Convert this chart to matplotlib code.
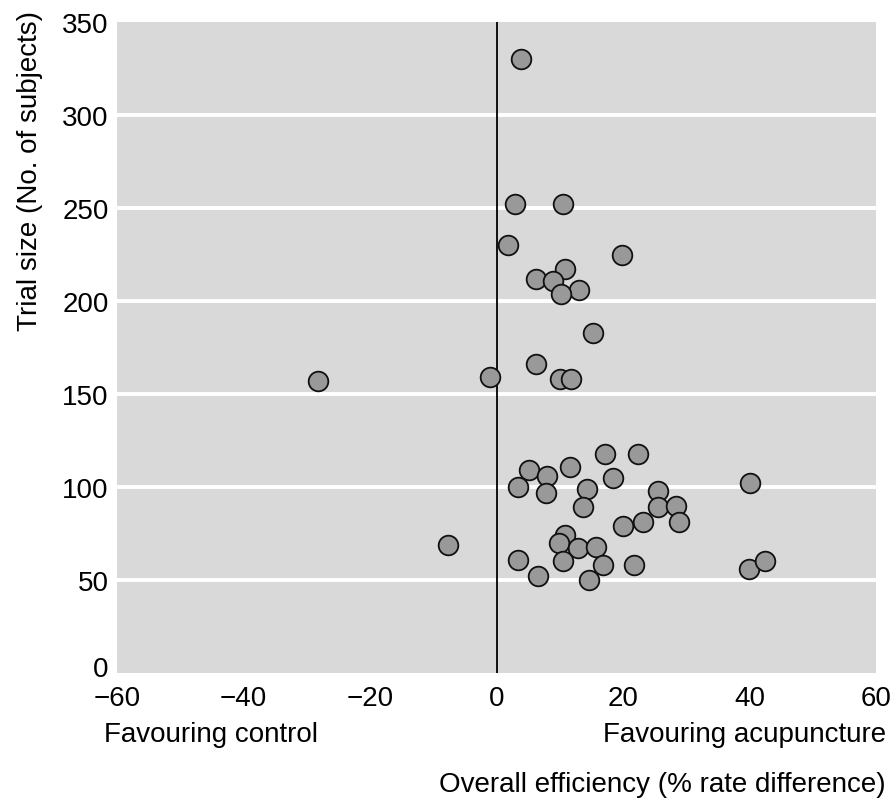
import matplotlib
matplotlib.use("Agg")
import matplotlib.pyplot as plt
import matplotlib.transforms as mtransforms

plt.rcParams["font.family"] = ["Liberation Sans", "DejaVu Sans"]

# rate difference (%) and trial size
rate_diff = [3.9, 2.9, 10.5, 1.8, 19.9, 6.2, 10.8, 9.0, 13.1, 10.2,
             15.3, -28.2, -1.0, 6.2, 10.0, 11.8,
             -7.7, 3.4, 5.2, 8.0, 7.9, 11.6, 17.1, 22.3, 14.3, 18.4,
             13.6, 25.6, 25.5, 28.4, 28.9, 23.2, 20.0, 40.1, 10.8, 9.9,
             12.9, 15.8, 3.4, 10.5, 16.9, 21.8, 6.5, 14.6, 39.9, 42.4]
trial_size = [330, 252, 252, 230, 225, 212, 217, 211, 206, 204,
              183, 157, 159, 166, 158, 158,
              69, 100, 109, 106, 97, 111, 118, 118, 99, 105,
              89, 98, 89, 90, 81, 81, 79, 102, 74, 70,
              67, 68, 61, 60, 58, 58, 52, 50, 56, 60]

xticks = [-60, -40, -20, 0, 20, 40, 60]
xtick_labels = ["\u221260", "\u221240", "\u221220", "0", "20", "40", "60"]
yticks = [0, 50, 100, 150, 200, 250, 300, 350]

FS = 20

fig = plt.figure(figsize=(8.92, 8.04), dpi=100)
ax = fig.add_axes([117/892, 1 - 674/804, (876-117)/892, (674-23)/804])
ax.set_facecolor("#d9d9d9")

for y in yticks[1:-1]:
    ax.axhline(y, color="white", linewidth=2.8, zorder=1)
ax.axvline(0, color="black", linewidth=1.3, zorder=2)

ax.scatter(rate_diff, trial_size, s=200, facecolor="#999999",
           edgecolor="#111111", linewidths=1.3, zorder=3)

ax.set_xlim(-60, 60)
ax.set_ylim(0, 350)
ax.set_xticks(xticks)
ax.set_xticklabels(xtick_labels)
ax.set_yticks(yticks)
ax.tick_params(length=0, labelsize=FS, colors="black")
ax.tick_params(axis="x", pad=9)
ax.tick_params(axis="y", pad=6)
for sp in ax.spines.values():
    sp.set_visible(False)

# lift the "0" on the y axis a little, as in the original
lbl0 = ax.get_yticklabels()[0]
lbl0.set_transform(lbl0.get_transform() +
                   mtransforms.ScaledTranslation(0, 5/72, fig.dpi_scale_trans))

fig.text(30/892, 1 - 11/804, "Trial size (No. of subjects)", rotation=90,
         ha="center", va="top", fontsize=FS)
fig.text(104/892, 1 - 735/804, "Favouring control", ha="left", va="center",
         fontsize=FS)
fig.text(886/892, 1 - 735/804, "Favouring acupuncture", ha="right",
         va="center", fontsize=FS)
fig.text(886/892, 1 - 785/804, "Overall efficiency (% rate difference)",
         ha="right", va="center", fontsize=FS)

fig.savefig("out.png", dpi=100, facecolor="white")
